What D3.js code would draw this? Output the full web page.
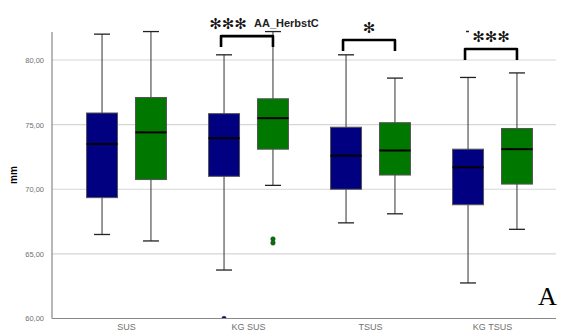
<!DOCTYPE html>
<html>
<head>
<meta charset="utf-8">
<script src="https://cdn.jsdelivr.net/npm/d3@7"></script>
<style>
  html, body { margin: 0; padding: 0; background: #fff; }
  svg { display: block; }
</style>
</head>
<body>
<svg id="chart" width="563" height="333"></svg>
<script>
// Groups along the x axis and the two series shown in each group
const categories = ["SUS", "KG SUS", "TSUS", "KG TSUS"];
const seriesNames = ["blue", "green"];
const seriesColors = ["#000080", "#007800"];

// Box statistics per group (mm): [low whisker, Q1, median, Q3, high whisker]
const blueStats = [
  [66.5, 69.35, 73.5, 75.9, 82.0],
  [63.75, 71.0, 73.95, 75.85, 80.4],
  [67.4, 70.0, 72.6, 74.8, 80.4],
  [62.75, 68.8, 71.7, 73.1, 78.65]
];
const greenStats = [
  [66.0, 70.75, 74.4, 77.1, 82.2],
  [70.3, 73.1, 75.5, 77.0, 82.2],
  [68.1, 71.1, 73.0, 75.15, 78.6],
  [66.9, 70.4, 73.1, 74.7, 79.0]
];
// Outliers: [category, series index, value]
const outliers = [
  ["KG SUS", 0, 60.0],
  ["KG SUS", 1, 66.15],
  ["KG SUS", 1, 65.85]
];
// Significance markers above group pairs: [category, label, bracket top (mm)]
const significance = [
  ["KG SUS", "✻✻✻", 81.85],
  ["TSUS", "✻", 81.55],
  ["KG TSUS", "✻✻✻", 80.85]
];
const yTicks = [60, 65, 70, 75, 80];

const svg = d3.select("#chart");
const plot = { left: 52, right: 556, top: 32, bottom: 318.5 };

const y = d3.scaleLinear().domain([60, 80]).range([318.5, 60]);
const x = d3.scaleBand().domain(categories).range([65.5, 553.5]);
const sub = d3.scaleBand().domain(seriesNames).range([0, x.bandwidth()])
  .paddingInner(0.367).paddingOuter(0.43);
const boxW = sub.bandwidth();

svg.append("defs").append("clipPath").attr("id", "plotClip")
  .append("rect").attr("x", plot.left).attr("y", 0)
  .attr("width", plot.right - plot.left).attr("height", plot.bottom);

// horizontal gridlines
svg.append("g").selectAll("line").data(yTicks.filter(t => t > 60)).join("line")
  .attr("x1", plot.left).attr("x2", plot.right)
  .attr("y1", d => y(d)).attr("y2", d => y(d))
  .attr("stroke", "#d6d6d6").attr("stroke-width", 1.2);

// y axis
const yAxis = d3.axisLeft(y).tickValues(yTicks)
  .tickFormat(d => d3.format(".2f")(d).replace(".", ","))
  .tickSize(0).tickPadding(8);
const gy = svg.append("g").attr("transform", `translate(${plot.left},0)`).call(yAxis);
gy.select(".domain").remove();
gy.selectAll("text").attr("font-family", "Liberation Sans, Arial, sans-serif")
  .attr("font-size", 7.5).attr("fill", "#707070");
svg.append("line").attr("x1", plot.left).attr("x2", plot.left)
  .attr("y1", plot.top).attr("y2", plot.bottom).attr("stroke", "#888").attr("stroke-width", 1.2);

// x axis
const xAxis = d3.axisBottom(x).tickSize(0).tickPadding(5);
const gx = svg.append("g").attr("transform", `translate(0,${plot.bottom})`).call(xAxis);
gx.select(".domain").remove();
gx.selectAll("text").attr("font-family", "Liberation Sans, Arial, sans-serif")
  .attr("font-size", 9).attr("fill", "#707070");

// y axis title
svg.append("text").attr("transform", "translate(17,175) rotate(-90)")
  .attr("text-anchor", "middle").attr("font-family", "Liberation Sans, Arial, sans-serif")
  .attr("font-size", 10).attr("font-weight", "bold").text("mm");

// boxes
const allStats = [blueStats, greenStats];
allStats.forEach((stats, si) => {
  const g = svg.append("g");
  const cx = (c) => x(c) + sub(seriesNames[si]) + boxW / 2;
  const rows = categories.map((c, i) => ({ c, s: stats[i] }));
  // whisker stems
  g.selectAll(".stem").data(rows).join("line")
    .attr("x1", d => cx(d.c)).attr("x2", d => cx(d.c))
    .attr("y1", d => y(d.s[0])).attr("y2", d => y(d.s[4]))
    .attr("stroke", "#333").attr("stroke-width", 1);
  // whisker caps
  [0, 4].forEach(k => {
    g.selectAll(".cap" + k).data(rows).join("line")
      .attr("x1", d => cx(d.c) - 8).attr("x2", d => cx(d.c) + 8)
      .attr("y1", d => y(d.s[k])).attr("y2", d => y(d.s[k]))
      .attr("stroke", "#222").attr("stroke-width", 1.3);
  });
  // boxes
  g.selectAll(".box").data(rows).join("rect")
    .attr("x", d => cx(d.c) - boxW / 2).attr("width", boxW)
    .attr("y", d => y(d.s[3])).attr("height", d => y(d.s[1]) - y(d.s[3]))
    .attr("fill", seriesColors[si]).attr("stroke", "#555").attr("stroke-width", 1);
  // medians
  g.selectAll(".med").data(rows).join("line")
    .attr("x1", d => cx(d.c) - boxW / 2).attr("x2", d => cx(d.c) + boxW / 2)
    .attr("y1", d => y(d.s[2])).attr("y2", d => y(d.s[2]))
    .attr("stroke", "#000").attr("stroke-width", 2);
});

// outliers (clipped to the plot area)
svg.append("g").attr("clip-path", "url(#plotClip)")
  .selectAll("circle").data(outliers).join("circle")
  .attr("cx", d => x(d[0]) + sub(seriesNames[d[1]]) + boxW / 2)
  .attr("cy", d => y(d[2]))
  .attr("r", 2.3)
  .attr("fill", d => seriesColors[d[1]]).attr("stroke", "#333").attr("stroke-width", 0.5);

// x axis line drawn over the marks
svg.append("line").attr("x1", plot.left).attr("x2", plot.right)
  .attr("y1", plot.bottom).attr("y2", plot.bottom).attr("stroke", "#888").attr("stroke-width", 1.2);

// significance brackets
const sg = svg.append("g");
significance.forEach(([c, label, top]) => {
  const x1 = x(c) + sub("blue") + boxW / 2 - 3;
  const x2 = x(c) + sub("green") + boxW / 2;
  const yt = y(top), yb = yt + 11;
  sg.append("path")
    .attr("d", `M${x1},${yb} L${x1},${yt} L${x2},${yt} L${x2},${yb}`)
    .attr("fill", "none").attr("stroke", "#000").attr("stroke-width", 2.6)
    .attr("stroke-linejoin", "round");
  sg.append("text")
    .attr("x", (x1 + x2) / 2 - (c === "KG SUS" ? 19 : 0)).attr("y", yt - 7)
    .attr("text-anchor", "middle").attr("font-family", "DejaVu Sans, sans-serif")
    .attr("font-size", 15).attr("fill", "#111")
    .text(label);
});
// variable label next to the first marker
sg.append("text").attr("x", 254).attr("y", 27)
  .attr("font-family", "Liberation Sans, Arial, sans-serif").attr("font-size", 11)
  .attr("font-weight", "bold").attr("fill", "#222").text("AA_HerbstC");
// small dash before the last marker
sg.append("line").attr("x1", 466).attr("x2", 469).attr("y1", 31.5).attr("y2", 31.5)
  .attr("stroke", "#223").attr("stroke-width", 1.5);

// panel letter
svg.append("text").attr("x", 538).attr("y", 305)
  .attr("font-family", "Liberation Serif, Times New Roman, serif").attr("font-size", 26)
  .attr("fill", "#000").text("A");
</script>
</body>
</html>
